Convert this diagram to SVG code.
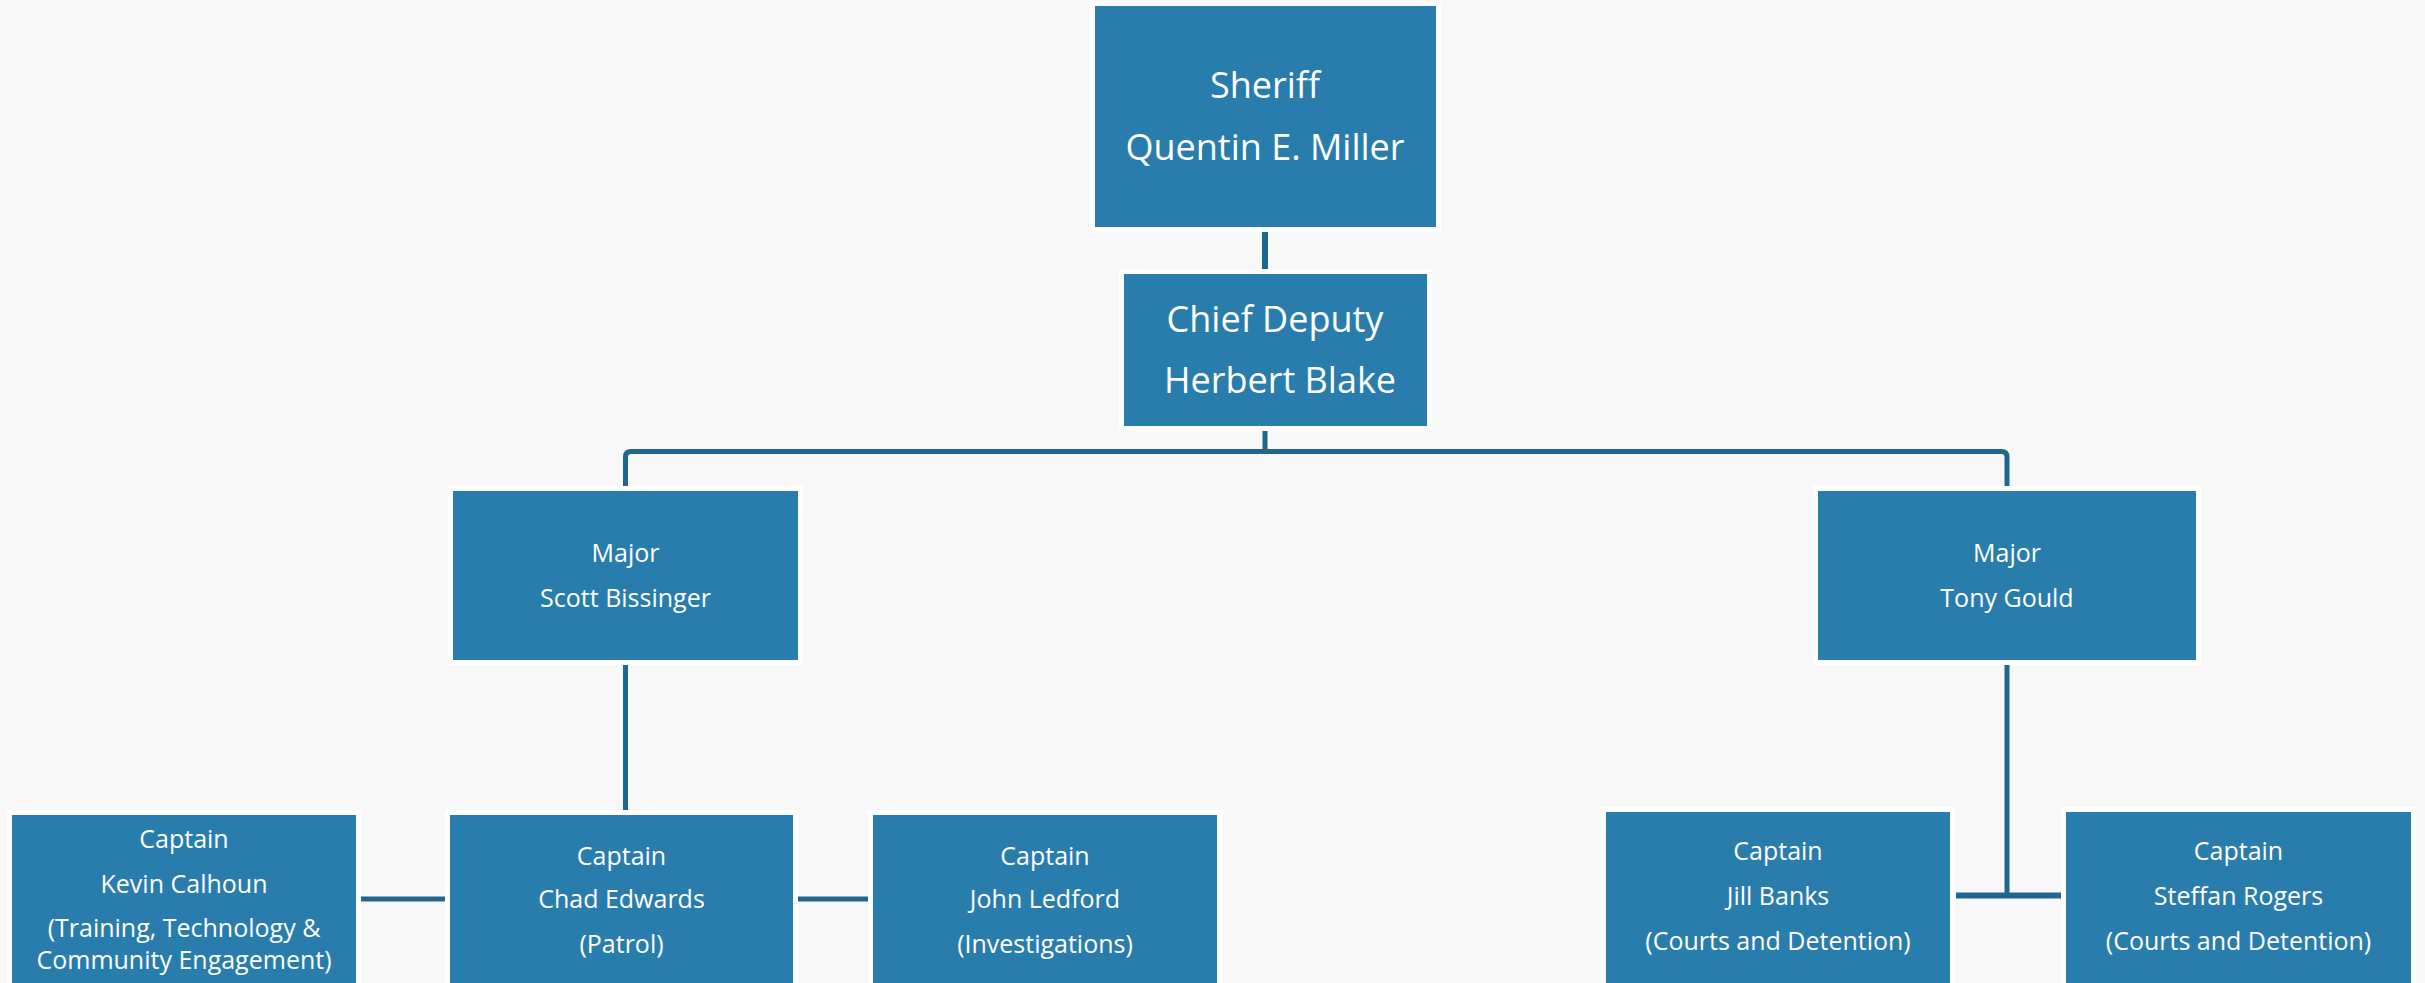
<svg xmlns="http://www.w3.org/2000/svg" width="2425" height="983" viewBox="0 0 2425 983">
<style>
.box{fill:#287DAD;stroke:#FFFFFF;stroke-width:5}
.t{font-family:"Segoe UI","Open Sans","Noto Sans",sans-serif;fill:#FFFFFF;text-anchor:middle}
.big{font-size:36px}
.sm{font-size:25px}
.ln{stroke:#21668F;stroke-width:5;fill:none}
</style>
<rect x="0" y="0" width="2425" height="983" fill="#F8F8F8"/>
<g id="connectors">
<line class="ln" x1="1265" y1="231" x2="1265" y2="269" style="stroke-width:6"/>
<line class="ln" x1="1265" y1="430" x2="1265" y2="452"/>
<path class="ln" d="M625.5 487 V457 Q625.5 451.5 631 451.5 H2001.5 Q2007 451.5 2007 457 V487"/>
<line class="ln" x1="625.5" y1="665" x2="625.5" y2="810"/>
<line class="ln" x1="361" y1="899" x2="445" y2="899"/>
<line class="ln" x1="798" y1="899" x2="868" y2="899"/>
<line class="ln" x1="2007" y1="665" x2="2007" y2="896"/>
<line class="ln" x1="1956" y1="895.5" x2="2061" y2="895.5" style="stroke-width:6"/>
</g>
<g id="sheriff">
<rect class="box" x="1092.5" y="3.5" width="346" height="226"/>
<text class="t big" x="1265" y="98">Sheriff</text>
<text class="t big" x="1265" y="160">Quentin E. Miller</text>
</g>
<g id="chief-deputy">
<rect class="box" x="1121.5" y="271.5" width="308" height="157"/>
<text class="t big" x="1275" y="332">Chief Deputy</text>
<text class="t big" x="1280" y="393">Herbert Blake</text>
</g>
<g id="major-bissinger">
<rect class="box" x="450.5" y="488.5" width="350" height="174"/>
<text class="t sm" x="625.5" y="562">Major</text>
<text class="t sm" x="625.5" y="607">Scott Bissinger</text>
</g>
<g id="major-gould">
<rect class="box" x="1815.5" y="488.5" width="383" height="174"/>
<text class="t sm" x="2007" y="562">Major</text>
<text class="t sm" x="2007" y="607">Tony Gould</text>
</g>
<g id="captain-calhoun">
<rect class="box" x="9.5" y="812.5" width="349" height="200"/>
<text class="t sm" x="184" y="848">Captain</text>
<text class="t sm" x="184" y="893">Kevin Calhoun</text>
<text class="t sm" x="184" y="937">(Training, Technology &amp;</text>
<text class="t sm" x="184" y="969">Community Engagement)</text>
</g>
<g id="captain-edwards">
<rect class="box" x="447.5" y="812.5" width="348" height="200"/>
<text class="t sm" x="621.5" y="865">Captain</text>
<text class="t sm" x="621.5" y="908">Chad Edwards</text>
<text class="t sm" x="621.5" y="953">(Patrol)</text>
</g>
<g id="captain-ledford">
<rect class="box" x="870.5" y="812.5" width="349" height="200"/>
<text class="t sm" x="1045" y="865">Captain</text>
<text class="t sm" x="1045" y="908">John Ledford</text>
<text class="t sm" x="1045" y="953">(Investigations)</text>
</g>
<g id="captain-banks">
<rect class="box" x="1603.5" y="809.5" width="349" height="200"/>
<text class="t sm" x="1778" y="860">Captain</text>
<text class="t sm" x="1778" y="905">Jill Banks</text>
<text class="t sm" x="1778" y="950">(Courts and Detention)</text>
</g>
<g id="captain-rogers">
<rect class="box" x="2063.5" y="809.5" width="350" height="200"/>
<text class="t sm" x="2238.5" y="860">Captain</text>
<text class="t sm" x="2238.5" y="905">Steffan Rogers</text>
<text class="t sm" x="2238.5" y="950">(Courts and Detention)</text>
</g>
</svg>
